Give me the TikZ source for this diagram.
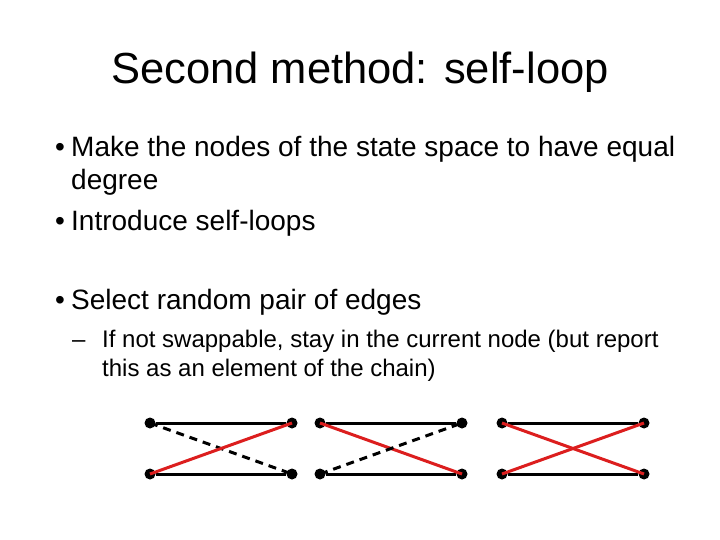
\documentclass[tikz,border=0pt]{standalone}
\usepackage{fontspec}
\setmainfont{Liberation Sans}
\begin{document}
\begin{tikzpicture}[x=1pt,y=-1pt,
 txt/.style={anchor=base west,inner sep=0pt},
 dot/.style={circle,fill=black,inner sep=0pt,minimum size=11pt},
 blk/.style={line width=3pt,black},
 red/.style={line width=3pt,draw={rgb,255:red,220;green,30;blue,30}},
 dsh/.style={line width=3pt,black,dash pattern=on 8pt off 6pt}]
\useasboundingbox (0,0) rectangle (720,540);
\node[anchor=base,inner sep=0pt,font=\fontsize{43.5}{52}\selectfont] (title) at (360,84) {Second method: self-loop};
\begin{scope}[font=\fontsize{28}{34}\selectfont]
\node[txt] (b1) at (55,157) {•};
\node[txt] (t1) at (71,157) {Make the nodes of the state space to have equal};
\node[txt] (t1b) at (71,190) {degree};
\node[txt] (b2) at (55,230) {•};
\node[txt] (t2) at (71,230) {Introduce self-loops};
\node[txt] (b3) at (55,309) {•};
\node[txt] (t3) at (71,309) {Select random pair of edges};
\end{scope}
\begin{scope}[font=\fontsize{24}{29}\selectfont]
\node[txt] (d1) at (72,347) {–};
\node[txt] (s1) at (102,347) {If not swappable, stay in the current node (but report};
\node[txt] (s1b) at (102,376) {this as an element of the chain)};
\end{scope}
\foreach \i/\x in {1/150,2/320,3/502}{
 \node[dot] (tl\i) at (\x,423) {};
 \node[dot] (tr\i) at (\x+142,423) {};
 \node[dot] (bl\i) at (\x,474) {};
 \node[dot] (br\i) at (\x+142,474) {};
 \draw[blk] (tl\i) -- (tr\i);
 \draw[blk] (bl\i) -- (br\i);
}
\draw[dsh] (tl1.center) -- (br1.center);
\draw[red] (bl1.center) -- (tr1.center);
\draw[red] (tl2.center) -- (br2.center);
\draw[dsh] (bl2.center) -- (tr2.center);
\draw[red] (tl3.center) -- (br3.center);
\draw[red] (bl3.center) -- (tr3.center);
\end{tikzpicture}
\end{document}
